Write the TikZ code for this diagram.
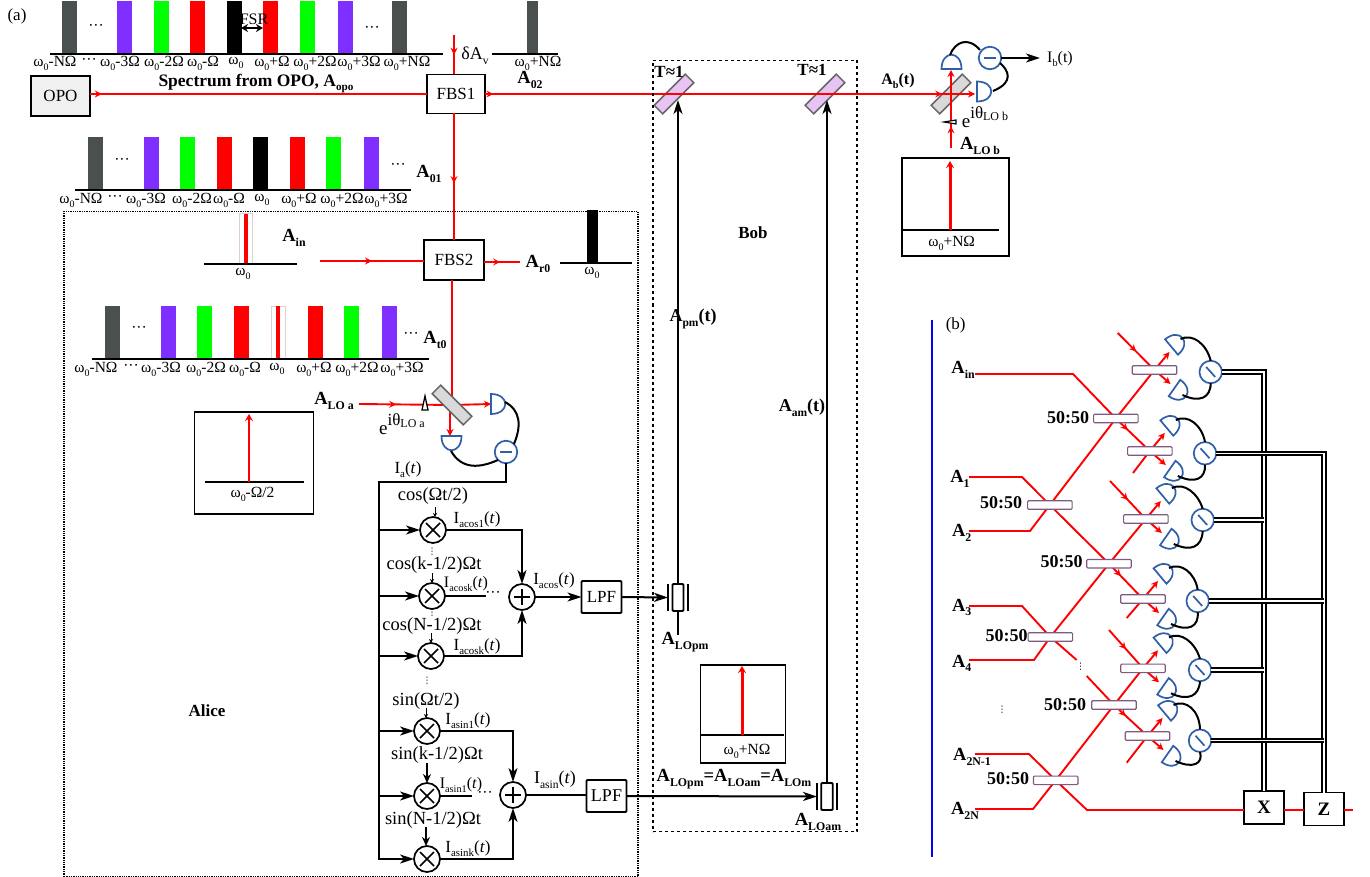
\documentclass[tikz,border=0pt]{standalone}
\usepackage{fontspec}
\setmainfont{Liberation Serif}
\newfontfamily\djf{DejaVu Sans}
\usetikzlibrary{arrows.meta,decorations.markings,calc}
\definecolor{rd}{HTML}{FF0000}
\definecolor{gy}{HTML}{4A4F50}
\definecolor{pu}{HTML}{7F2FFF}
\definecolor{gr}{HTML}{00FF00}
\definecolor{bl}{HTML}{2F5FA8}
\definecolor{pk}{HTML}{E0D0D4}
\definecolor{lil}{HTML}{E8C4F4}
\makeatletter
\newcommand\sbs[1]{\raisebox{-.25em}{\fontsize{\strip@pt\dimexpr.64\dimexpr\f@size pt\relax\relax}{1em}\selectfont #1}}
\makeatother
\newcommand\wz[1]{ω\sbs{0}#1}
\newcounter{tc}
\newcommand\tx[4][]{\stepcounter{tc}\node[txt,#1] (t\thetc) at (#2,#3) {#4};}
\newcommand\sz[1]{\fontsize{#1}{#1}\selectfont}
\newcommand\vd{{\djf\sz{9}⋮}}
\newcommand\specbar[5]{\fill[#5] (#1-#4/2,#2) rectangle (#1+#4/2,#3);}
\newcommand\detect[3]{\draw[blw,fill=white,shift={(#1,#2)},rotate=#3] (-10,0) -- (10,0) .. controls (10,-19) and (-10,-19) .. (-10,0) -- cycle;}
\newcommand\unitb[6]{%
 \coordinate (#1) at (#2,#3);
 \coordinate (#1a) at ($(#1)+(15,-18)$);
 \coordinate (#1b) at ($(#1)+(16,14)$);
 \draw[rl,-{Stealth[length=7pt,width=7pt]}] (#1) -- (#1a);
 \draw[rl,-{Stealth[length=7pt,width=7pt]}] (#1) -- (#1b);
 \detect{#2+17}{#3-23}{-50}
 \detect{#2+20}{#3+18}{-125}
 \node[sub] (#1c) at (#4,#5) {};
 \draw[blw,shift={(#1c.center)}] (-4.5,-5) -- (4.5,5);
 \draw[wr] ($(#1)+(26,-31)$) .. controls ($(#1)+(38,-37)$) and ($(#1)+(52,-26)$) .. (#1c.north);
 \draw[wr] ($(#1)+(28,25)$) .. controls ($(#1)+(45,33)$) and ($(#1)+(56,28)$) .. (#1c.south);
}
\tikzset{
 txt/.style={inner sep=0pt,outer sep=0pt,align=center},
 rl/.style={draw=rd,line width=1.9pt},
 wr/.style={draw=black,line width=2pt},
 blw/.style={draw=bl,line width=1.7pt},
 redmark/.style={postaction={decorate,decoration={markings,mark=at position #1 with {\arrow[rd]{Stealth[length=7pt,width=7pt,inset=2.5pt]}}}}},
 ar/.style={-{Stealth[length=14pt,width=9pt,inset=4pt]}},
 bx/.style={draw=black,line width=1.8pt,fill=white,inner sep=0pt,outer sep=0pt},
 mult/.style={circle,draw=black,line width=1.7pt,fill=white,minimum size=26pt,inner sep=0pt,outer sep=0pt,
   path picture={\draw[line width=1.6pt] ([shift={(-7,-7)}]path picture bounding box.center) -- ([shift={(7,7)}]path picture bounding box.center);
   \draw[line width=1.6pt] ([shift={(-7,7)}]path picture bounding box.center) -- ([shift={(7,-7)}]path picture bounding box.center);}},
 addr/.style={circle,draw=black,line width=1.7pt,fill=white,minimum size=26pt,inner sep=0pt,outer sep=0pt,
   path picture={\draw[line width=1.6pt] ([shift={(-8,0)}]path picture bounding box.center) -- ([shift={(8,0)}]path picture bounding box.center);
   \draw[line width=1.6pt] ([shift={(0,-8)}]path picture bounding box.center) -- ([shift={(0,8)}]path picture bounding box.center);}},
 sub/.style={circle,draw=bl,line width=1.7pt,fill=white,minimum size=22.5pt,inner sep=0pt,outer sep=0pt},
 bsp/.style={rectangle,draw=gray!80!black,line width=1.5pt,fill=#1,minimum width=44pt,minimum height=12pt,inner sep=0pt},
 bsb/.style={rectangle,rounded corners=1pt,draw=gray!70!violet,line width=1.1pt,fill=white,minimum width=44.5pt,minimum height=8.5pt,inner sep=0pt},
 tri/.style={draw=black,double=white,line width=2pt,double distance=1.2pt},
}
\begin{document}
\begin{tikzpicture}[x=1pt,y=-1pt,font=\sz{15.5}]
\useasboundingbox (0,0) rectangle (1370,877);
\fill[white] (0,0) rectangle (1370,877);
\tx{17}{16}{\sz{17}(a)}
% top spectrum
\foreach \x/\c in {69/gy,124/pu,161/gr,197.5/rd,234/black,270.5/rd,307/gr,345/pu,399/gy}{\specbar{\x}{1}{54}{15}{\c}}
\coordinate (s1a) at (50,54); \coordinate (s1b) at (443,54);
\draw[wr] (s1a) -- (s1b);
\tx{55}{63}{\wz{-NΩ}}\tx{89}{61}{···}\tx{120}{63}{\wz{-3Ω}}\tx{164}{63}{\wz{-2Ω}}\tx{203}{63}{\wz{-Ω}}\tx{236}{63}{\wz{}}\tx{272}{63}{\wz{+Ω}}\tx{315}{63}{\wz{+2Ω}}\tx{359}{63}{\wz{+3Ω}}\tx{407}{63}{\wz{+NΩ}}
\tx{96}{27}{···}\tx{372}{29}{···}
\tx{254}{19}{\sz{16}FSR}
\coordinate (fa) at (241,28); \coordinate (fb) at (263,28);
\draw[line width=1.7pt,{Stealth[length=7pt,width=8pt]}-{Stealth[length=7pt,width=8pt]}] (fa) -- (fb);
% right mini spectrum
\specbar{532}{1}{54}{11}{gy}
\coordinate (s2a) at (492,54); \coordinate (s2b) at (558,54);
\draw[wr] (s2a) -- (s2b);
\tx{538}{63}{\wz{+NΩ}}
\tx{530}{80}{\bfseries\sz{18.5}A\sbs{02}}
\tx{475}{56}{\sz{18}δA\sbs{v}}
% OPO, FBS1
\node[bx,fill=black!6,line width=2.2pt,minimum width=59pt,minimum height=40pt] (OPO) at (60.5,96) {\sz{17}OPO};
\node[bx,minimum width=58pt,minimum height=39pt] (FBS1) at (456,94) {\sz{17}FBS1};
\tx{256}{83.5}{\bfseries\sz{17.5}Spectrum from OPO, A\sbs{opo}}
\coordinate (dAv) at (454,35);
\coordinate (BS3c) at (951,94);
\coordinate (BS1c) at (674,94);
\coordinate (BS2c) at (825,94);
\coordinate (Rend) at (975,94);
\node[bsp=lil] (BS1) at (BS1c) [rotate=45] {};
\node[bsp=lil] (BS2) at (BS2c) [rotate=45] {};
\node[bsp=black!15] (BS3) at (BS3c) [rotate=45] {};
\draw[rl,redmark=.5] (dAv) -- (dAv |- FBS1.north);
\draw[rl,redmark=.035] (OPO.east |- FBS1.west) -- (FBS1.west);
\draw[rl,redmark=.018] (FBS1.east) -- (BS1c) -- (BS2c) -- (BS3c);
\draw[rl,redmark=.93] (BS2c) -- (BS3c);
\draw[rl,-{Stealth[length=7pt,width=7pt]}] (BS3c) -- (Rend);
% A01 spectrum
\foreach \x/\c in {95/gy,151/pu,187/gr,224/rd,260/black,297/rd,333/gr,371/pu}{\specbar{\x}{137}{190}{15}{\c}}
\coordinate (s3a) at (75,190); \coordinate (s3b) at (411,190);
\draw[wr] (s3a) -- (s3b);
\tx{81}{200}{\wz{-NΩ}}\tx{115}{198}{···}\tx{146}{200}{\wz{-3Ω}}\tx{192}{200}{\wz{-2Ω}}\tx{229}{200}{\wz{-Ω}}\tx{262}{200}{\wz{}}\tx{299}{200}{\wz{+Ω}}\tx{342}{200}{\wz{+2Ω}}\tx{386}{200}{\wz{+3Ω}}
\tx{122}{161}{···}\tx{398}{166}{···}
\tx{429}{174}{\bfseries\sz{18.5}A\sbs{01}}
% Alice and Bob boxes
\node[draw=black,line width=1.3pt,densely dotted,minimum width=574pt,minimum height=665pt,inner sep=0pt] (Alice) at (351,544) {};
\node[draw=black,line width=1.3pt,dashed,minimum width=204pt,minimum height=771pt,inner sep=0pt] (Bob) at (755,446) {};
\tx{207}{711}{\bfseries\sz{17}Alice}
\tx{753}{233}{\bfseries\sz{17}Bob}
% FBS2
\node[bx,minimum width=60pt,minimum height=40pt] (FBS2) at (454,260) {\sz{17}FBS2};
\draw[rl,redmark=.55] (FBS1.south -| dAv) -- (FBS2.north -| dAv);
% Ain
\draw[draw=pk,line width=1pt,fill=white] (239,214) rectangle (252,264);
\specbar{246}{214}{264}{4}{rd}
\coordinate (s4a) at (204,264); \coordinate (s4b) at (297,264);
\draw[wr] (s4a) -- (s4b);
\tx{243}{274}{\wz{}}
\tx{294}{238}{\bfseries\sz{18.5}A\sbs{in}}
\coordinate (ain) at (320,261);
\coordinate (ar0) at (520,262);
\draw[rl,redmark=.5] (ain) -- (FBS2.west |- ain);
\draw[rl,redmark=.45] (FBS2.east |- ar0) -- (ar0);
\tx{538}{264}{\bfseries\sz{18.5}A\sbs{r0}}
\specbar{592}{210}{263}{11}{black}
\coordinate (s5a) at (560,263); \coordinate (s5b) at (632,263);
\draw[wr] (s5a) -- (s5b);
\tx{592}{273}{\wz{}}
% At0
\foreach \x/\c in {112/gy,168/pu,204/gr,241/rd,315/rd,351/gr,389/pu}{\specbar{\x}{306}{359}{15}{\c}}
\draw[draw=pk,line width=1pt] (271,306) rectangle (285,359);
\specbar{278}{306}{359}{4}{rd}
\coordinate (s6a) at (92,359); \coordinate (s6b) at (429,359);
\draw[wr] (s6a) -- (s6b);
\tx{96}{369}{\wz{-NΩ}}\tx{131}{367}{···}\tx{161}{369}{\wz{-3Ω}}\tx{206}{369}{\wz{-2Ω}}\tx{245}{369}{\wz{-Ω}}\tx{277}{369}{\wz{}}\tx{314}{369}{\wz{+Ω}}\tx{357}{369}{\wz{+2Ω}}\tx{402}{369}{\wz{+3Ω}}
\tx{139}{329}{···}\tx{411}{335}{···}
\tx{435}{340}{\bfseries\sz{18.5}A\sbs{t0}}
% LO a homodyne
\coordinate (BSac) at (452,405);
\coordinate (LOa) at (359,404);
\coordinate (Da) at (491,404);
\coordinate (Db) at (450,436);
\draw[rl] (FBS2.south -| BSac) -- (BSac);
\draw[rl,redmark=.4] (LOa) -- (BSac);
\draw[rl,-{Stealth[length=7pt,width=7pt]}] (BSac) -- (Da);
\draw[rl,-{Stealth[length=7pt,width=7pt]}] (BSac -| Db) -- (Db);
\node[bsp=black!15] (BSa) at (BSac) [rotate=-45] {};
\draw[black,line width=1.3pt,fill=white] (425,396) -- (428,410) -- (422,410) -- cycle;
\detect{491}{404}{-90}
\detect{451.5}{436}{180}
\node[sub] (Ca) at (506,452) {};
\draw[blw,shift={(Ca.center)}] (-6,0) -- (6,0);
\draw[wr] (505,402) .. controls (520,410) and (522,425) .. (Ca.north east);
\draw[wr] (451,451) .. controls (462,470) and (480,468) .. (Ca.south west);
\tx{334}{401}{\bfseries\sz{18.5}A\sbs{LO a}}
\tx{402}{424}{\sz{19}e\raisebox{.45em}{\sz{17}iθ\raisebox{-.1em}{\sz{12}LO a}}}
\node[bx,minimum width=119pt,minimum height=102pt] (LObox) at (254,463) {};
\coordinate (lo1a) at (205,482); \coordinate (lo1b) at (304,482);
\draw[wr] (lo1a) -- (lo1b);
\coordinate (lo1c) at (249,482); \coordinate (lo1d) at (249,414);
\draw[rd,line width=2.7pt,-{Stealth[length=7pt,width=8pt]}] (lo1c) -- (lo1d);
\tx{252.5}{494}{\wz{-Ω/2}}
% Electronics
\coordinate (busB) at (379,859);
\draw[wr,ar] (Ca.south) -- ++(0,19) -| (busB) -- ++(35,0);
\node[mult] (M1) at (433,530) {};
\node[mult] (M2) at (432,596) {};
\node[mult] (M3) at (431,656) {};
\node[mult] (M4) at (427,731) {};
\node[mult] (M5) at (427,796) {};
\node[mult] (M6) at (427,859) {};
\node[addr] (P1) at (522,597) {};
\node[addr] (P2) at (513,795) {};
\foreach \m in {M1,M2,M3,M4,M5}{\draw[wr,ar] (\m.west -| busB) -- (\m.west);}
\draw[wr,ar] (M1.east) -| (P1.north);
\draw[wr,ar] (M3.east) -| (P1.south);
\coordinate (m2e) at (486,596);
\draw[wr] (M2.east) -- (m2e);
\tx{493}{594}{···}
\draw[wr,ar] (M4.east) -| (P2.north);
\draw[wr,ar] (M6.east) -| (P2.south);
\coordinate (m5e) at (472,796);
\draw[wr,line width=1.4pt] (M5.east) -- (m5e);
\tx{485}{794}{···}
\node[bx,rounded corners=1pt,minimum width=40pt,minimum height=32pt] (LPF1) at (601.5,597) {\sz{17}LPF};
\node[bx,rounded corners=1pt,minimum width=40pt,minimum height=32pt] (LPF2) at (606.5,796) {\sz{18}LPF};
\draw[wr,ar] (P1.east) -- (LPF1.west);
\draw[wr] (P2.east) -- (LPF2.west |- P2.east);
\node[bx,rounded corners=1pt,minimum width=11pt,minimum height=27pt] (Mod1) at (678,597.5) {};
\node[bx,rounded corners=1pt,minimum width=11.5pt,minimum height=27pt] (Mod2) at (827,796.5) {};
\coordinate (p1a) at (668,584); \coordinate (p1b) at (668,611);
\coordinate (p2a) at (688,584); \coordinate (p2b) at (688,611);
\coordinate (p3a) at (817,783); \coordinate (p3b) at (817,810);
\coordinate (p4a) at (837,783); \coordinate (p4b) at (837,810);
\draw[wr] (p1a) -- (p1b) (p2a) -- (p2b) (p3a) -- (p3b) (p4a) -- (p4b);
\draw[wr,ar] (LPF1.east) -- (p1a |- Mod1.west);
\draw[wr,ar] (LPF2.east) -- (p3a |- Mod2.west);
\coordinate (T1) at (678,100);
\coordinate (T2) at (827,100);
\coordinate (m1b) at (678,635);
\draw[wr,ar] (Mod1.north) -- (T1);
\draw[wr,ar] (Mod2.north) -- (T2);
\draw[wr] (Mod1.south) -- (m1b);
\tx{669}{72}{\bfseries\sz{17}T≈1}
\tx{812}{70}{\bfseries\sz{17}T≈1}
\tx{693}{319}{\bfseries\sz{18}A\sbs{pm}(t)}
\tx{802}{408}{\bfseries\sz{18}A\sbs{am}(t)}
\tx{685}{642}{\bfseries\sz{18.5}A\sbs{LOpm}}
\tx{818}{822}{\bfseries\sz{18.5}A\sbs{LOam}}
\tx{734}{779}{\bfseries\sz{18.5}A\sbs{LOpm}=A\sbs{LOam}=A\sbs{LOm}}
% small arrows
\coordinate (c1) at (435,507); \coordinate (c2) at (432,573); \coordinate (c3) at (431,633);
\coordinate (c4) at (426,708); \coordinate (c5) at (427,763); \coordinate (c6) at (426,827);
\draw[black,line width=.9pt,-{Stealth[length=4pt,width=4pt]}] (c1) -- (c1 |- M1.north);
\draw[black,line width=.9pt,-{Stealth[length=4pt,width=4pt]}] (c2) -- (c2 |- M2.north);
\draw[black,line width=.9pt,-{Stealth[length=4pt,width=4pt]}] (c3) -- (c3 |- M3.north);
\draw[black,line width=.9pt,-{Stealth[length=4pt,width=4pt]}] (c4) -- (c4 |- M4.north);
\draw[black,line width=1.8pt,-{Stealth[length=9pt,width=8pt]}] (c5) -- (c5 |- M5.north);
\draw[black,line width=1.8pt,-{Stealth[length=9pt,width=8pt]}] (c6) -- (c6 |- M6.north);
\tx{408}{470}{\sz{17}I\sbs{a}(\textit{t})}
\tx{433}{496}{\sz{18.5}cos(Ωt/2)}
\tx{477}{520}{\sz{17}I\sbs{acos1}(\textit{t})}
\tx{432}{552}{\vd}
\tx{434}{565}{\sz{18.5}cos(k-1/2)Ωt}
\tx{466}{584}{\sz{16}I\sbs{acosk}(\textit{t})}
\tx{432}{613}{\vd}
\tx{432}{626}{\sz{18.5}cos(N-1/2)Ωt}
\tx{477}{647}{\sz{17}I\sbs{acosk}(\textit{t})}
\tx{554}{581}{\sz{17}I\sbs{acos}(\textit{t})}
\tx{427}{681}{\vd}
\tx{426}{701}{\sz{18.5}sin(Ωt/2)}
\tx{468}{721}{\sz{17}I\sbs{asin1}(\textit{t})}
\tx{437}{755}{\sz{18.5}sin(k-1/2)Ωt}
\tx{461}{785}{\sz{16}I\sbs{asin1}(\textit{t})}
\tx{433}{820}{\sz{18.5}sin(N-1/2)Ωt}
\tx{468}{849}{\sz{17}I\sbs{asink}(\textit{t})}
\tx{555}{780}{\sz{18}I\sbs{asin}(\textit{t})}
% Bob LO box
\node[bx,minimum width=85pt,minimum height=97.5pt] (LOm) at (743,714) {};
\coordinate (lo2a) at (701,735); \coordinate (lo2b) at (784,735);
\draw[wr,line width=1.4pt] (lo2a) -- (lo2b);
\coordinate (lo2c) at (742,735); \coordinate (lo2d) at (742,666);
\draw[rd,line width=3pt,-{Stealth[length=7pt,width=8pt]}] (lo2c) -- (lo2d);
\tx{747}{751}{\wz{+NΩ}}
% Bob side homodyne
\tx{898}{81}{\bfseries\sz{16}A\sbs{b}(t)}
\coordinate (Ab1) at (951,70);
\draw[rl,-{Stealth[length=7pt,width=7pt]}] (BS3c) -- (Ab1);
\coordinate (Lb) at (951,148);
\draw[rl,redmark=.4] (Lb) -- (BS3c);
\draw[black,line width=1.2pt,fill=white] (944,122) -- (956,120) -- (956,124) -- cycle;
\detect{951.5}{69}{0}
\detect{977}{91.5}{-90}
\node[sub] (Cb) at (990,58) {};
\draw[blw,shift={(Cb.center)}] (-6,0) -- (6,0);
\draw[wr] (950,55) .. controls (955,42) and (968,36) .. (980,50);
\draw[wr] (993,91) .. controls (1015,82) and (1008,70) .. (1000,63);
\coordinate (Ib) at (1040,58);
\draw[wr,ar] (Cb.east) -- (Ib);
\tx{1060}{59}{\sz{16}I\sbs{b}(t)}
\tx{985}{117}{\sz{19}e\raisebox{.45em}{\sz{17}iθ\raisebox{-.1em}{\sz{12}LO b}}}
\tx{980}{146}{\bfseries\sz{18.5}A\sbs{LO b}}
\node[bx,minimum width=107pt,minimum height=98pt] (LOb) at (955.6,207) {};
\coordinate (lo3a) at (903,230); \coordinate (lo3b) at (999,230);
\draw[wr] (lo3a) -- (lo3b);
\coordinate (lo3c) at (950,230); \coordinate (lo3d) at (950,161);
\draw[rd,line width=3pt,-{Stealth[length=7pt,width=8pt]}] (lo3c) -- (lo3d);
\tx{951.7}{243}{\wz{+NΩ}}
% ---------- (b)
\coordinate (bl1) at (932,320); \coordinate (bl2) at (932,857);
\draw[draw=blue,line width=2pt] (bl1) -- (bl2);
\tx{955.7}{325}{\sz{17}(b)}
\foreach \n/\x/\y in {S1/1115.8/418.5,S2/1049.8/505,S3/1109/563.7,S4/1050.3/637,S5/1114/705,S6/1055.7/780.3}{\coordinate (\n) at (\x,\y);}
\node[bx,line width=1.9pt,minimum width=40pt,minimum height=33pt] (X) at (1264,807.5) {\bfseries\sz{19}X};
\node[bx,line width=1.9pt,minimum width=40pt,minimum height=33pt] (Z) at (1324,809) {\bfseries\sz{19}Z};
\unitb{U1}{1154.5}{370}{1210.7}{372}{}
\unitb{U2}{1149.8}{451}{1205}{453.3}{}
\unitb{U3}{1145.8}{519}{1202.7}{520}{}
\unitb{U4}{1143}{599}{1197.7}{601}{}
\unitb{U5}{1143}{668.3}{1200}{670}{}
\unitb{U6}{1147.5}{736}{1200}{740.7}{}
% free beams
\coordinate (f1) at (1117.7,333); \coordinate (f2) at (1133,473); \coordinate (f3) at (1110,481);
\coordinate (f4) at (1126.7,618); \coordinate (f5) at (1109,630); \coordinate (f6) at (1126.7,762.7);
\draw[rl,redmark=.5] (f1) -- (U1);
\draw[rl] (f2) -- (U2);
\draw[rl,redmark=.5] (f3) -- (U3);
\draw[rl] (f4) -- (U4);
\draw[rl,redmark=.5] (f5) -- (U5);
\draw[rl] (f6) -- (U6);
% input beams
\coordinate (Ain) at (975,374); \coordinate (A1) at (969,477); \coordinate (A2) at (969,531);
\coordinate (A3) at (969,606); \coordinate (A4) at (969,660);
\coordinate (An1) at (975,754); \coordinate (An) at (975,809);
\coordinate (Sbk) at (1076.7,660); \coordinate (Sbl) at (1086.7,676);
\coordinate (Out) at (1353,810);
\draw[rl] (Ain) -- (1073,374) -- (S1);
\draw[rl,redmark=.35] (S1) -- (U2);
\draw[rl] (A1) -- (1022,477) -- (S2) -- (S3);
\draw[rl,redmark=.35] (S3) -- (U4);
\draw[rl] (A2) -- (1030,531) -- (S2) -- (S1) -- (U1);
\draw[rl] (A3) -- (1022,606) -- (S4) -- (Sbk);
\draw[rl] (Sbl) -- (S5);
\draw[rl,redmark=.35] (S5) -- (U6);
\draw[rl] (A4) -- (1034,660) -- (S4) -- (S3) -- (U3);
\draw[rl] (An) -- (1033,809) -- (S6) -- (S5) -- (U5);
\draw[rl] (An1) -- (1029,754) -- (S6) -- (1087,810) -- (X.west |- Out);
\draw[rl] (X.east |- Out) -- (Z.west |- Out);
\draw[rl] (Z.east |- Out) -- (Out);
% beam splitters on top
\foreach \n in {S1,S2,S3,S4,S5,S6,U1,U2,U3,U4,U5,U6}{\node[bsb] (n\n) at (\n) {};}
\foreach \n/\l/\x/\y in {S1/1/1068/418,S2/2/1001/503,S3/3/1061.7/562,S4/4/1006.7/635.7,S5/5/1065/705,S6/6/1008/779}{\tx{\x}{\y}{\bfseries\sz{18}50:50}}
\tx{963}{370}{\bfseries\sz{18.5}A\sbs{in}}
\tx{960}{479}{\bfseries\sz{18.5}A\sbs{1}}
\tx{961.7}{533}{\bfseries\sz{18.5}A\sbs{2}}
\tx{961.7}{607.5}{\bfseries\sz{18.5}A\sbs{3}}
\tx{961.7}{663.5}{\bfseries\sz{18.5}A\sbs{4}}
\tx{972}{757}{\bfseries\sz{18.5}A\sbs{2N-1}}
\tx{965}{811}{\bfseries\sz{18.5}A\sbs{2N}}
\tx{1080.7}{666.7}{\vd}
\tx{1002}{710}{\vd}
% classical triple lines
\draw[tri] (U1c.east) -| (X.north);
\draw[tri] (U2c.east) -| (Z.north);
\draw[tri] (U3c.east) -- (U3c.east -| X.north);
\draw[tri] (U4c.east) -- (U4c.east -| Z.north);
\draw[tri] (U5c.east) -- (U5c.east -| X.north);
\draw[tri] (U6c.east) -- (U6c.east -| Z.north);
\end{tikzpicture}
\end{document}
